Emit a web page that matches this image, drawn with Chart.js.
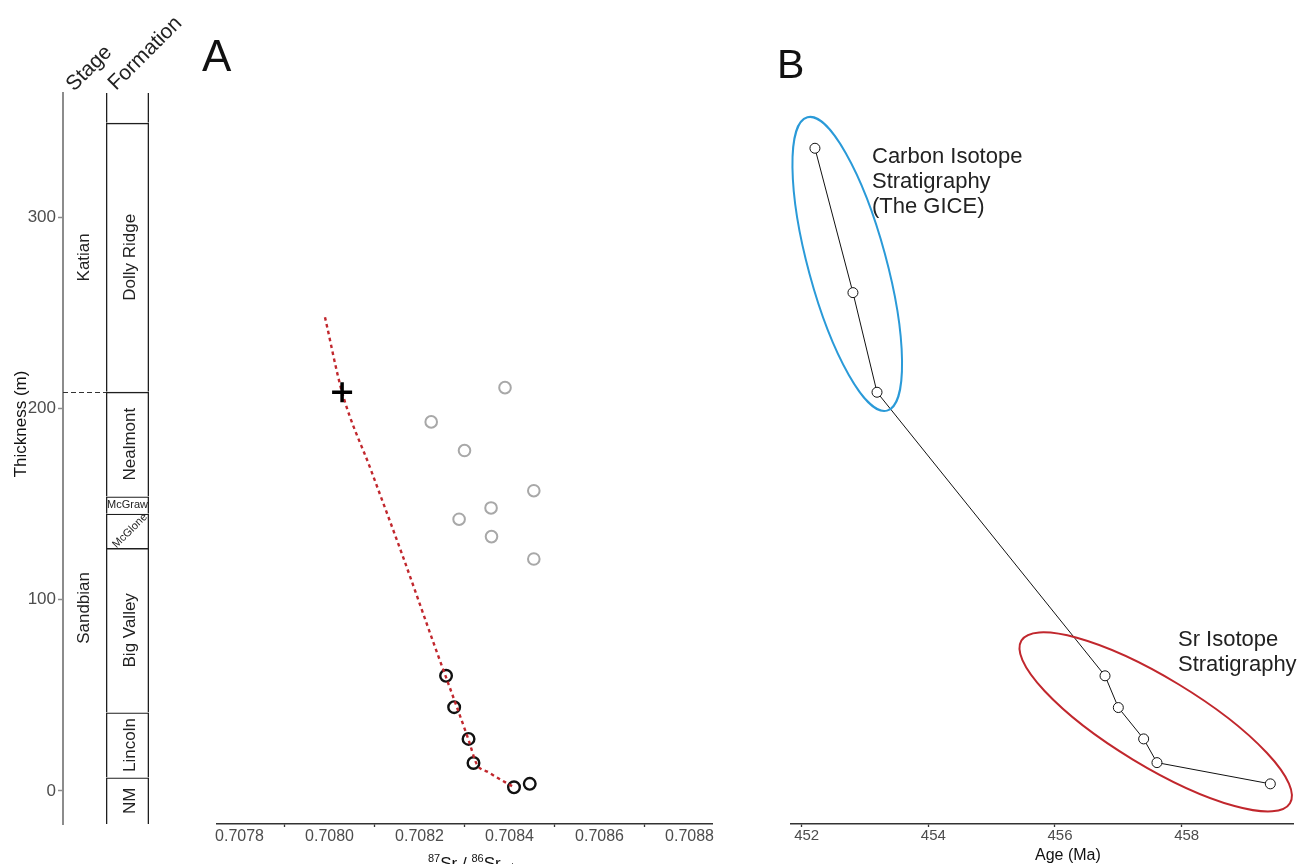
<!DOCTYPE html>
<html>
<head>
<meta charset="utf-8">
<title>Sr isotope stratigraphy</title>
<script src="https://cdn.jsdelivr.net/npm/chart.js@4.4.1/dist/chart.umd.min.js"></script>
<style>
  html, body { margin: 0; padding: 0; background: #fff; }
  #wrap { position: relative; width: 1299px; height: 864px; overflow: hidden; }
  #wrap canvas { position: absolute; left: 0; top: 0; }
</style>
</head>
<body>
<div id="wrap">
  <canvas id="column" width="1299" height="864"></canvas>
  <canvas id="panelA" width="1299" height="864"></canvas>
  <canvas id="panelB" width="1299" height="864"></canvas>
</div>
<script>
// ---------- shared thickness axis ----------
const THICK_MIN = -17.3;
const THICK_MAX = 365;
const THICK_TICKS = [0, 100, 200, 300];

// ---------- stratigraphic column ----------
const FORMATIONS = ["NM", "Lincoln", "Big Valley", "McGlone", "McGraw", "Nealmont", "Dolly Ridge", ""];
const FORMATION_BASE = [-17.3, 7, 41, 127, 145, 154, 208.7, 349.4];
const FORMATION_TOP = [7, 41, 127, 145, 154, 208.7, 349.4, 365];

const STAGES = ["Sandbian", "Katian"];
const STAGE_BASE = [-17.3, 208.7];
const STAGE_TOP = [208.7, 349.4];

// ---------- panel A : 87Sr/86Sr vs thickness ----------
const SR_MAJOR_TICKS = [0.7078, 0.7080, 0.7082, 0.7084, 0.7086, 0.7088];
const SR_MINOR_TICKS = [0.7079, 0.7081, 0.7083, 0.7085, 0.7087];

const SR_USED = [0.708259, 0.708277, 0.708309, 0.70832, 0.70841, 0.708445];
const THICK_USED = [60.2, 43.8, 27.2, 14.6, 1.9, 3.7];

const SR_REJECTED = [0.70839, 0.708226, 0.7083, 0.708454, 0.708359, 0.708288, 0.70836, 0.708454];
const THICK_REJECTED = [210.9, 193, 178, 157, 148, 142.1, 133, 121.3];

const SR_BOUNDARY = [0.708028];
const THICK_BOUNDARY = [208.5];

const SR_TREND = [0.70799, 0.708028, 0.708092, 0.708164, 0.708232, 0.708309, 0.708327, 0.708353, 0.70841];
const THICK_TREND = [247.7, 208.5, 167.9, 122.0, 76.9, 26.7, 14.1, 9.8, 1.9];

// ---------- panel B : age model ----------
const AGE_TICKS = [452, 454, 456, 458];
const AGE = [452.21, 452.81, 453.19, 456.79, 457.0, 457.40, 457.61, 459.40];
const AGE_THICK = [336.1, 260.6, 208.5, 60.2, 43.6, 27.2, 14.8, 3.7];

const GROUP_NAMES = ["Carbon Isotope Stratigraphy", "Sr Isotope Stratigraphy"];
const GROUP_AGE = [452.72, 457.59];
const GROUP_THICK = [275.6, 36.1];

// ---------- helpers ----------
const FONT = "'Liberation Sans', Arial, Helvetica, sans-serif";
const RED = "#c1272d";
const BLUE = "#2a9ad8";
Chart.defaults.font.family = FONT;

function pts(xs, ys) {
  return xs.map(function (v, i) { return { x: v, y: ys[i] }; });
}

function isMinor(v) {
  return SR_MINOR_TICKS.some(function (m) { return Math.abs(m - v) < 1e-8; });
}

function drawText(ctx, text, x, y, opts) {
  ctx.save();
  ctx.translate(x, y);
  ctx.rotate(opts.angle || 0);
  ctx.font = opts.font;
  ctx.fillStyle = opts.color || "#222";
  ctx.textAlign = opts.align || "center";
  ctx.textBaseline = opts.baseline || "middle";
  ctx.fillText(text, 0, 0);
  ctx.restore();
}

const baseOptions = {
  responsive: false,
  animation: false,
  devicePixelRatio: 1,
  events: [],
  plugins: { legend: { display: false }, tooltip: { enabled: false } },
};

// ---------- column plugin ----------
const columnText = {
  id: "columnText",
  afterDatasetsDraw(chart) {
    const { ctx, chartArea, scales: { x, y } } = chart;
    const mid = function (lo, hi) {
      return y.getPixelForValue((Math.max(lo, y.min) + Math.min(hi, y.max)) / 2);
    };
    const stageX = x.getPixelForValue(0);
    const formX = x.getPixelForValue(1);
    const split = x.getPixelForValue(0.5);

    // stage boundary (dashed)
    ctx.save();
    ctx.strokeStyle = "#333";
    ctx.lineWidth = 1;
    ctx.setLineDash([5, 3]);
    const by = Math.round(y.getPixelForValue(STAGE_TOP[0])) + 0.5;
    ctx.beginPath();
    ctx.moveTo(chartArea.left, by);
    ctx.lineTo(split, by);
    ctx.stroke();
    ctx.restore();

    STAGES.forEach(function (name, i) {
      drawText(ctx, name, stageX, mid(STAGE_BASE[i], STAGE_TOP[i]),
        { angle: -Math.PI / 2, font: "17px " + FONT });
    });

    FORMATIONS.forEach(function (name, i) {
      if (!name) return;
      const h = y.getPixelForValue(FORMATION_BASE[i]) - y.getPixelForValue(FORMATION_TOP[i]);
      const cy = mid(FORMATION_BASE[i], FORMATION_TOP[i]);
      if (h < 22) {
        drawText(ctx, name, formX, cy, { font: "11px " + FONT });
      } else if (h < 45) {
        drawText(ctx, name, formX + 2.5, cy, { angle: -Math.PI / 4, font: "11px " + FONT });
      } else {
        drawText(ctx, name, formX + 2.5, cy, { angle: -Math.PI / 2, font: "17px " + FONT });
      }
    });

    // column headers
    drawText(ctx, "Stage", 74, 92,
      { angle: -Math.PI / 4, font: "21px " + FONT, align: "left", baseline: "alphabetic" });
    drawText(ctx, "Formation", 116, 91,
      { angle: -Math.PI / 4, font: "21px " + FONT, align: "left", baseline: "alphabetic" });

    // axis title
    drawText(ctx, "Thickness (m)", 21, 424,
      { angle: -Math.PI / 2, font: "17px " + FONT, color: "#111" });
  },
};

new Chart(document.getElementById("column"), {
  type: "bar",
  data: {
    labels: ["Stage", "Formation"],
    datasets: FORMATIONS.map(function (name, i) {
      return {
        label: name || "top",
        data: [null, [FORMATION_BASE[i], FORMATION_TOP[i]]],
        backgroundColor: "rgba(0,0,0,0)",
        borderColor: "#1f1f1f",
        borderWidth: { left: 1.3, right: 1.3, top: i === FORMATIONS.length - 1 ? 0 : 1.3, bottom: 0 },
        borderSkipped: false,
        inflateAmount: 0,
        barPercentage: 1,
        categoryPercentage: 1,
        grouped: false,
      };
    }),
  },
  options: Object.assign({}, baseOptions, {
    layout: { padding: { left: 0, top: 93, right: 1150, bottom: 40 } },
    scales: {
      x: { display: false },
      y: {
        min: THICK_MIN,
        max: THICK_MAX,
        afterFit: function (s) { s.width = 63; },
        afterBuildTicks: function (s) { s.ticks = THICK_TICKS.map(function (v) { return { value: v }; }); },
        ticks: { color: "#4d4d4d", font: { size: 17 }, padding: 2 },
        grid: { drawOnChartArea: false, tickLength: 5, tickColor: "#8c8c8c", tickWidth: 1.5 },
        border: { color: "#8c8c8c", width: 2 },
      },
    },
  }),
  plugins: [columnText],
});

// ---------- panel A ----------
const panelAText = {
  id: "panelAText",
  afterDraw(chart) {
    const ctx = chart.ctx;
    drawText(ctx, "A", 202, 71, { font: "44px " + FONT, align: "left", baseline: "alphabetic", color: "#111" });

    // 87Sr / 86Sr(carb) title
    const parts = [
      ["87", 11, -7], ["Sr", 17, 0], [" / ", 17, 0], ["86", 11, -7], ["Sr", 17, 0], ["carb", 8, -1],
    ];
    let xPos = 428;
    const base = 869;
    ctx.save();
    ctx.fillStyle = "#111";
    ctx.textAlign = "left";
    ctx.textBaseline = "alphabetic";
    parts.forEach(function (p) {
      ctx.font = p[1] + "px " + FONT;
      ctx.fillText(p[0], xPos, base + p[2]);
      xPos += ctx.measureText(p[0]).width;
    });
    ctx.restore();
  },
};

new Chart(document.getElementById("panelA"), {
  type: "scatter",
  data: {
    datasets: [
      {
        label: "Boundary",
        data: pts(SR_BOUNDARY, THICK_BOUNDARY),
        pointStyle: "cross",
        pointRadius: 10,
        pointBorderWidth: 3.5,
        pointBorderColor: "#000",
      },
      {
        label: "Trend",
        type: "line",
        data: pts(SR_TREND, THICK_TREND),
        borderColor: RED,
        borderWidth: 2.4,
        borderDash: [3.5, 3.5],
        pointRadius: 0,
        cubicInterpolationMode: "monotone",
        fill: false,
      },
      {
        label: "Used",
        data: pts(SR_USED, THICK_USED),
        pointRadius: 5.8,
        pointBorderWidth: 2.4,
        pointBorderColor: "#111",
        pointBackgroundColor: "rgba(0,0,0,0)",
      },
      {
        label: "Rejected",
        data: pts(SR_REJECTED, THICK_REJECTED),
        pointRadius: 5.8,
        pointBorderWidth: 2,
        pointBorderColor: "#a8a8a8",
        pointBackgroundColor: "rgba(0,0,0,0)",
      },
    ],
  },
  options: Object.assign({}, baseOptions, {
    layout: { padding: { left: 217, top: 93, right: 587, bottom: 0 } },
    scales: {
      x: {
        type: "linear",
        min: 0.70775,
        max: 0.70885,
        afterFit: function (s) { s.height = 40; },
        afterBuildTicks: function (s) {
          s.ticks = SR_MAJOR_TICKS.concat(SR_MINOR_TICKS)
            .sort(function (a, b) { return a - b; })
            .map(function (v) { return { value: v }; });
        },
        ticks: {
          autoSkip: false,
          maxRotation: 0,
          color: "#4d4d4d",
          font: { size: 16 },
          padding: 0,
          callback: function (v) { return isMinor(v) ? "" : v.toFixed(4); },
        },
        grid: {
          drawOnChartArea: false,
          tickLength: 3,
          tickWidth: 1.3,
          tickColor: function (c) { return c.tick && isMinor(c.tick.value) ? "#333" : "rgba(0,0,0,0)"; },
        },
        border: { color: "#333", width: 1.5 },
      },
      y: { display: false, min: THICK_MIN, max: THICK_MAX },
    },
  }),
  plugins: [panelAText],
});

// ---------- panel B ----------
const panelBText = {
  id: "panelBText",
  afterDatasetsDraw(chart) {
    const { ctx, scales: { x, y } } = chart;
    const shapes = [
      { color: BLUE, a: 152, b: 39, rot: 74.8 },
      { color: RED, a: 157, b: 44, rot: 31.2 },
    ];
    ctx.save();
    ctx.lineWidth = 2;
    GROUP_NAMES.forEach(function (name, i) {
      const s = shapes[i];
      ctx.strokeStyle = s.color;
      ctx.beginPath();
      ctx.ellipse(x.getPixelForValue(GROUP_AGE[i]), y.getPixelForValue(GROUP_THICK[i]),
        s.a, s.b, s.rot * Math.PI / 180, 0, Math.PI * 2);
      ctx.stroke();
    });
    ctx.restore();

    const f = "22px " + FONT;
    const opt = { font: f, align: "left", baseline: "alphabetic", color: "#222" };
    ["Carbon Isotope", "Stratigraphy", "(The GICE)"].forEach(function (t, i) {
      drawText(ctx, t, 872, 163 + i * 25, opt);
    });
    ["Sr Isotope", "Stratigraphy"].forEach(function (t, i) {
      drawText(ctx, t, 1178, 646 + i * 25, opt);
    });

    drawText(ctx, "B", 777, 78, { font: "41px " + FONT, align: "left", baseline: "alphabetic", color: "#111" });
    drawText(ctx, "Age (Ma)", 1035, 860, { font: "16px " + FONT, align: "left", baseline: "alphabetic", color: "#111" });
  },
};

new Chart(document.getElementById("panelB"), {
  type: "scatter",
  data: {
    datasets: [
      {
        label: "Age model",
        data: pts(AGE, AGE_THICK),
        showLine: true,
        borderColor: "#111",
        borderWidth: 1,
        pointRadius: 5,
        pointBorderWidth: 1,
        pointBorderColor: "#111",
        pointBackgroundColor: "#fff",
      },
    ],
  },
  options: Object.assign({}, baseOptions, {
    layout: { padding: { left: 791, top: 93, right: 3, bottom: 0 } },
    scales: {
      x: {
        type: "linear",
        min: 451.832,
        max: 459.758,
        afterFit: function (s) { s.height = 40; },
        afterBuildTicks: function (s) { s.ticks = AGE_TICKS.map(function (v) { return { value: v }; }); },
        ticks: { autoSkip: false, maxRotation: 0, color: "#4d4d4d", font: { size: 15 }, padding: 0,
          labelOffset: 5, callback: function (v) { return String(v); } },
        grid: { drawOnChartArea: false, tickLength: 3, tickWidth: 1.3, tickColor: "#333" },
        border: { color: "#333", width: 1.5 },
      },
      y: { display: false, min: THICK_MIN, max: THICK_MAX },
    },
  }),
  plugins: [panelBText],
});
</script>
</body>
</html>
